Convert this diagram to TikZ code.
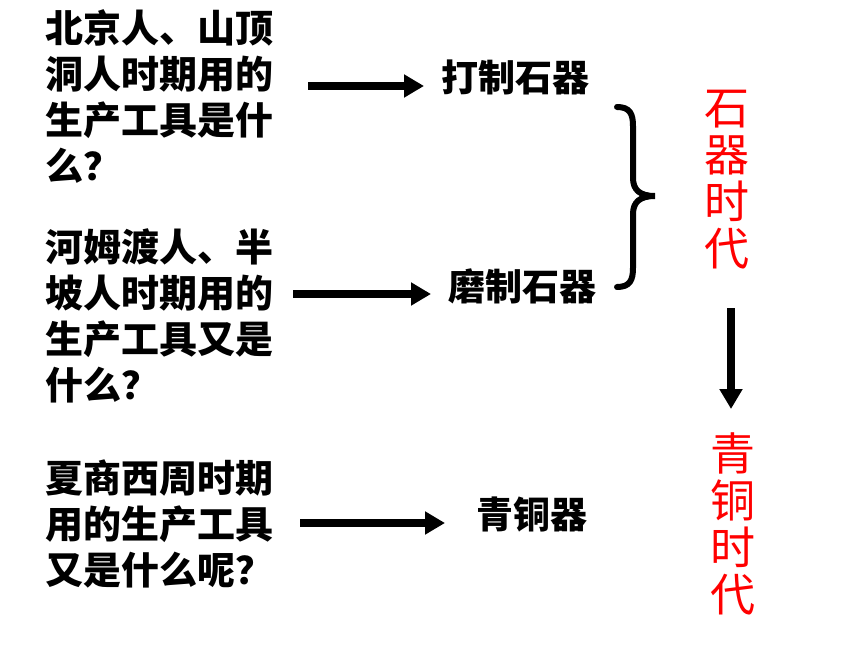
\documentclass[tikz,border=0pt]{standalone}
\usepackage{fontspec}
\setmainfont{Noto Sans CJK SC}
\newfontfamily\cjk{Noto Sans CJK SC}
\usetikzlibrary{arrows.meta}
\tikzset{
  question/.style={anchor=west, inner sep=0pt, align=left, font=\cjk\bfseries\fontsize{38}{46}\selectfont},
  tool/.style={inner sep=0pt, font=\cjk\bfseries\fontsize{37}{40}\selectfont},
  era/.style={inner sep=0pt, align=center, text=red, font=\cjk\fontsize{45}{47}\selectfont},
  arr/.style={line width=8pt, -{Triangle[length=20pt,width=22pt]}},
  bracestyle/.style={line width=6pt, line cap=round}
}
\begin{document}
\begin{tikzpicture}[x=1pt,y=-1pt]
\useasboundingbox[fill=white] (0,0) rectangle (860,645);
% questions
\node[question] (q1) at (45,97) {北京人、山顶\\洞人时期用的\\生产工具是什\\么？};
\node[question] (q2) at (45,316) {河姆渡人、半\\坡人时期用的\\生产工具又是\\什么？};
\node[question] (q3) at (45,524) {夏商西周时期\\用的生产工具\\又是什么呢？};
% tools
\node[tool] (t1) at (515,77) {打制石器};
\node[tool] (t2) at (522,286) {磨制石器};
\node[tool] (t3) at (532,515) {青铜器};
% eras
\node[era] (e1) at (727,180) {石\\器\\时\\代};
\node[era] (e2) at (733,524) {青\\铜\\时\\代};
% arrow endpoints
\coordinate (a1s) at (308,86); \coordinate (a1e) at (424,86);
\coordinate (a2s) at (293,294); \coordinate (a2e) at (431,294);
\coordinate (a3s) at (300,523); \coordinate (a3e) at (445,523);
\coordinate (a4s) at (731,308); \coordinate (a4e) at (731,409);
\draw[arr] (a1s) -- (a1e);
\draw[arr] (a2s) -- (a2e);
\draw[arr] (a3s) -- (a3e);
\draw[arr] (a4s) -- (a4e);
% brace
\coordinate (bt) at (617,107);
\coordinate (bm) at (655,196);
\coordinate (bb) at (617,287);
\draw[bracestyle] (bt) .. controls (630,107) and (633,114) .. (633,126) -- (633,178)
  .. controls (633,190) and (640,196) .. (bm)
  .. controls (640,196) and (633,202) .. (633,214) -- (633,268)
  .. controls (633,280) and (630,287) .. (bb);
\end{tikzpicture}
\end{document}
